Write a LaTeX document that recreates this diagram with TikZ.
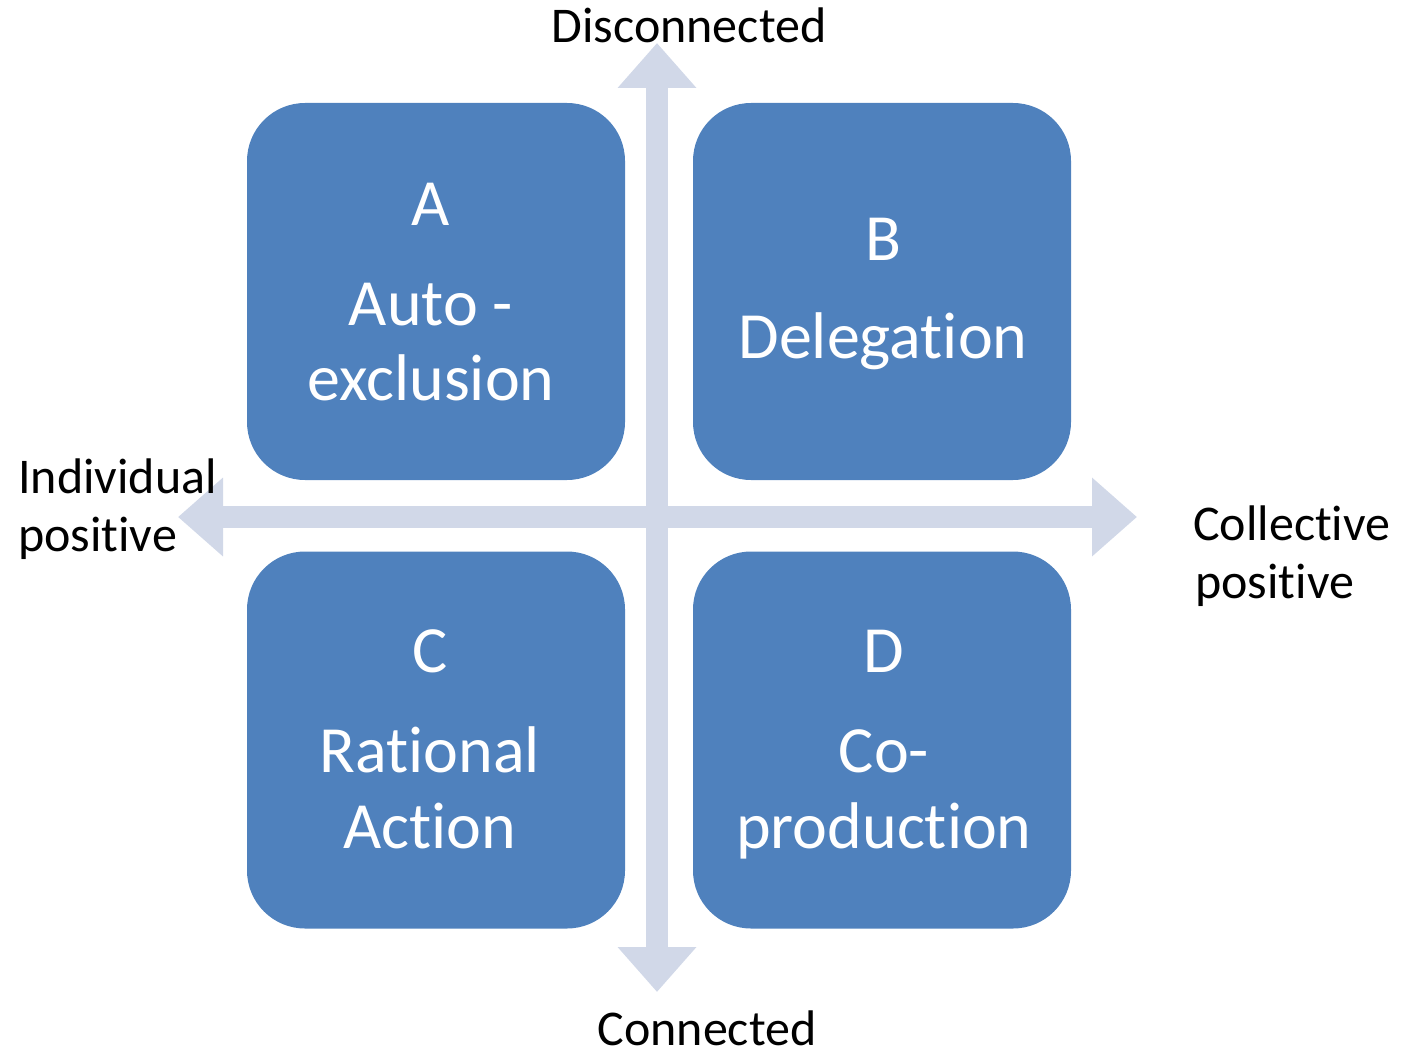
\documentclass[tikz,border=0pt]{standalone}
\usepackage{fontspec}
\setmainfont{Carlito}[Ligatures={NoCommon}]
\usetikzlibrary{arrows.meta}
\definecolor{boxblue}{RGB}{79,129,189}
\definecolor{axisgray}{RGB}{209,216,232}
\tikzset{
  quad/.style={fill=boxblue, draw=none, rounded corners=58pt, minimum width=378pt, minimum height=377pt, inner sep=0pt},
  intext/.style={text=white, font=\fontsize{66}{75}\selectfont, anchor=base, inner sep=0pt},
  outtext/.style={text=black, font=\fontsize{50}{60}\selectfont, anchor=base, inner sep=0pt},
  axis/.style={draw=axisgray, line width=22pt, {Triangle[length=45pt,width=76pt]}-{Triangle[length=45pt,width=76pt]}}
}
\begin{document}
\begin{tikzpicture}[x=1pt,y=-1pt]
\useasboundingbox (0,0) rectangle (1406,1054);
% axes
\coordinate (top) at (657,43);
\coordinate (bot) at (657,992);
\coordinate (lft) at (178,517);
\coordinate (rgt) at (1137,517);
% boxes
\node[quad] (qa) at (436,291.5) {};
\node[quad] (qb) at (882,291.5) {};
\node[quad] (qc) at (436,740) {};
\node[quad] (qd) at (882,740) {};
\draw[axis] (top) -- (bot);
\draw[axis] (lft) -- (rgt);
% box texts
\node[intext] (ta1) at (431,225) {A};
\node[intext] (ta2) at (431,325) {Auto -};
\node[intext] (ta3) at (431,400) {exclusion};
\node[intext] (tb1) at (883,260) {B};
\node[intext] (tb2) at (883,358) {Delegation};
\node[intext] (tc1) at (430,672) {C};
\node[intext] (tc2) at (430,772) {Rational};
\node[intext] (tc3) at (430,848) {Action};
\node[intext] (td1) at (884,672) {D};
\node[intext] (td2) at (884,772) {Co-};
\node[intext] (td3) at (884,848) {production};
% axis labels
\node[outtext] (disc) at (689,43) {Disconnected};
\node[outtext] (conn) at (707,1045) {Connected};
\node[outtext, anchor=base west] (ind1) at (18,493) {Individual};
\node[outtext, anchor=base west] (ind2) at (18,551) {positive};
\node[outtext, anchor=base west] (col1) at (1193,540) {Collective};
\node[outtext, anchor=base west] (col2) at (1195,598) {positive};
\end{tikzpicture}
\end{document}
